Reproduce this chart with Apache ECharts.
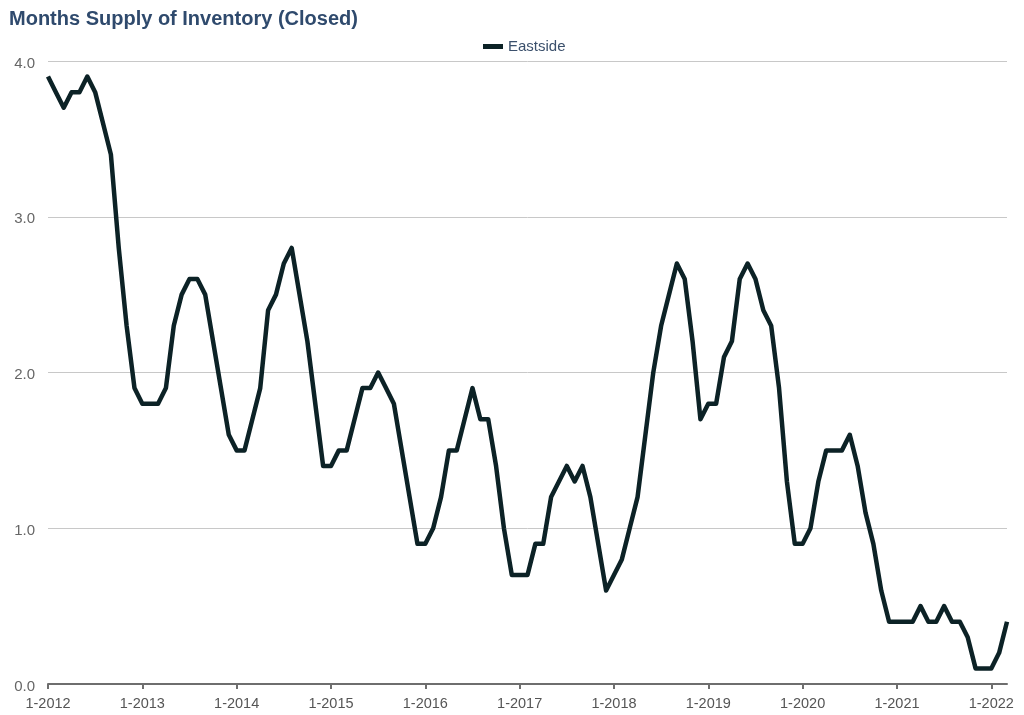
<!DOCTYPE html>
<html>
<head>
<meta charset="utf-8">
<script src="https://cdn.jsdelivr.net/npm/echarts@6/dist/echarts.min.js"></script>
<style>
html,body{margin:0;padding:0;background:#fff;}
#chart{width:1024px;height:715px;}
</style>
</head>
<body>
<div id="chart"></div>
<script>
var titleText = 'Months Supply of Inventory (Closed)';
var seriesName = 'Eastside';
var startYear = 2012;
var monthCount = 123;
// month categories "m-yyyy", Jan 2012 .. Mar 2022
var categories = [];
for (var k = 0; k < monthCount; k++) {
  categories.push(((k % 12) + 1) + '-' + (startYear + Math.floor(k / 12)));
}
var eastside = [
  3.9, 3.8, 3.7, 3.8, 3.8, 3.9, 3.8, 3.6, 3.4, 2.8, 2.3, 1.9,
  1.8, 1.8, 1.8, 1.9, 2.3, 2.5, 2.6, 2.6, 2.5, 2.2, 1.9, 1.6,
  1.5, 1.5, 1.7, 1.9, 2.4, 2.5, 2.7, 2.8, 2.5, 2.2, 1.8, 1.4,
  1.4, 1.5, 1.5, 1.7, 1.9, 1.9, 2.0, 1.9, 1.8, 1.5, 1.2, 0.9,
  0.9, 1.0, 1.2, 1.5, 1.5, 1.7, 1.9, 1.7, 1.7, 1.4, 1.0, 0.7,
  0.7, 0.7, 0.9, 0.9, 1.2, 1.3, 1.4, 1.3, 1.4, 1.2, 0.9, 0.6,
  0.7, 0.8, 1.0, 1.2, 1.6, 2.0, 2.3, 2.5, 2.7, 2.6, 2.2, 1.7,
  1.8, 1.8, 2.1, 2.2, 2.6, 2.7, 2.6, 2.4, 2.3, 1.9, 1.3, 0.9,
  0.9, 1.0, 1.3, 1.5, 1.5, 1.5, 1.6, 1.4, 1.1, 0.9, 0.6, 0.4,
  0.4, 0.4, 0.4, 0.5, 0.4, 0.4, 0.5, 0.4, 0.4, 0.3, 0.1, 0.1,
  0.1, 0.2, 0.4
];
var yTickLabels = ['0.0', '1.0', '2.0', '3.0', '4.0'];

var chart = echarts.init(document.getElementById('chart'));
chart.setOption({
  animation: false,
  backgroundColor: '#ffffff',
  textStyle: { fontFamily: 'Liberation Sans, Arial, sans-serif' },
  title: {
    text: titleText,
    left: 4, top: 4,
    textStyle: { fontSize: 20, fontWeight: 'bold', color: '#2f4a6d', fontFamily: 'Liberation Sans, Arial, sans-serif' }
  },
  legend: {
    data: [seriesName],
    left: 478, top: 34,
    itemWidth: 20, itemHeight: 5, itemGap: 10,
    icon: 'rect',
    textStyle: { fontSize: 15, color: '#3b506c' }
  },
  grid: { left: 48, right: 17, top: 61, bottom: 31, containLabel: false },
  xAxis: {
    type: 'category',
    data: categories,
    boundaryGap: false,
    axisLine: { show: true, lineStyle: { color: '#6e6e6e', width: 2 } },
    axisTick: {
      show: true, length: 5, inside: false,
      interval: function (i) { return i % 12 === 0; },
      lineStyle: { color: '#6e6e6e', width: 2 }
    },
    axisLabel: {
      interval: function (i) { return i % 12 === 0; },
      color: '#555', fontSize: 14.5, margin: 12
    },
    splitLine: { show: false }
  },
  yAxis: {
    type: 'value',
    min: 0, max: 4, interval: 1,
    axisLine: { show: false },
    axisTick: { show: false },
    axisLabel: {
      color: '#666', fontSize: 15, margin: 13,
      verticalAlign: 'top', lineHeight: 15, padding: [-5, 0, 0, 0],
      formatter: function (v) { return yTickLabels[Math.round(v)]; }
    },
    splitLine: { lineStyle: { color: '#c8c8c8', width: 1 } }
  },
  series: [{
    name: seriesName,
    type: 'line',
    data: eastside,
    showSymbol: false,
    symbol: 'none',
    lineStyle: { color: '#0c2226', width: 4.5, join: 'round' },
    itemStyle: { color: '#0c2226' }
  }]
});
</script>
</body>
</html>
